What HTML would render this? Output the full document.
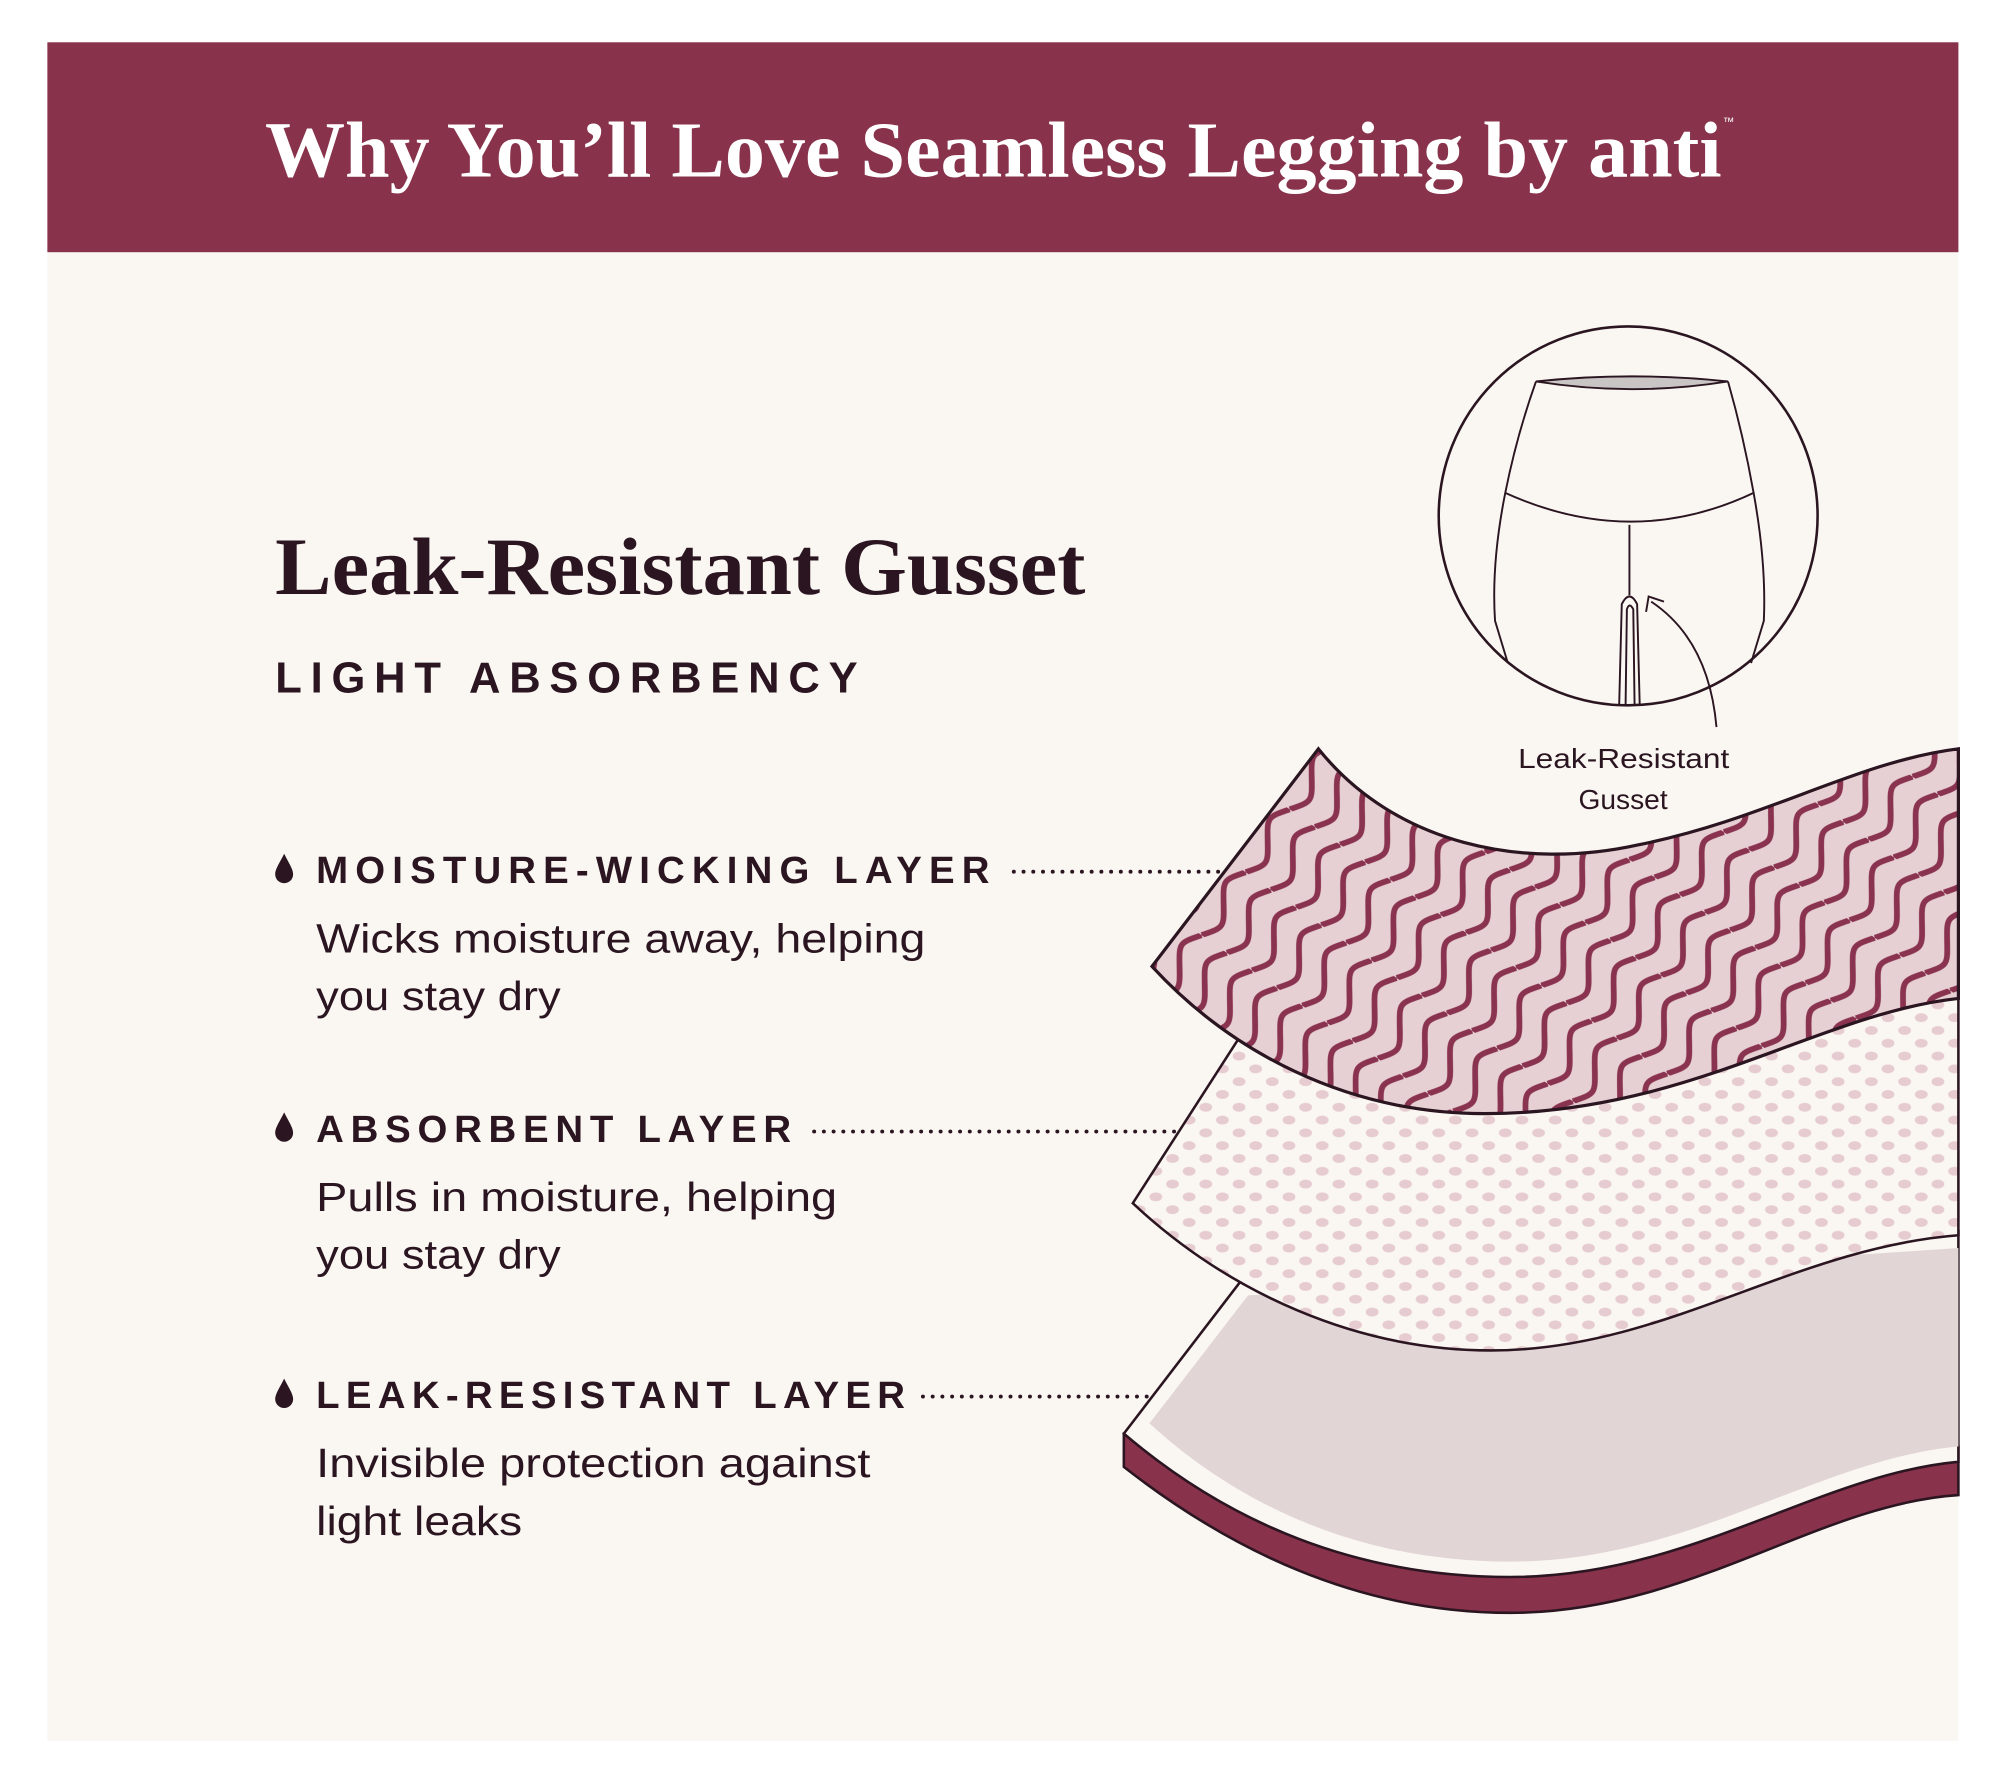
<!DOCTYPE html>
<html><head><meta charset="utf-8"><style>
html,body{margin:0;padding:0;background:#fff;}
svg{display:block;}
</style></head><body>
<svg width="2000" height="1778" viewBox="0 0 1562.5 1389" xmlns="http://www.w3.org/2000/svg">
<defs>
<pattern id="waves" width="24" height="60" patternUnits="userSpaceOnUse" patternTransform="rotate(35)">
<rect width="24" height="60" fill="#e6d0d3"/>
<path d="M12,0 C1,15 1,15 12,30 C23,45 23,45 12,60" fill="none" stroke="#8a3350" stroke-width="4.5"/>
</pattern>
<pattern id="dots" width="26" height="20" patternUnits="userSpaceOnUse">
<rect width="26" height="20" fill="#faf6f2"/>
<ellipse cx="6" cy="5" rx="5" ry="3.5" fill="#e6ccd0"/>
<ellipse cx="19" cy="15" rx="5" ry="3.5" fill="#e6ccd0"/>
</pattern>
</defs>
<rect width="1562.5" height="1389" fill="#ffffff"/>
<rect x="37" y="197" width="1493" height="1163" fill="#faf7f3"/>
<rect x="37" y="33" width="1493" height="164" fill="#88324b"/>
<text x="207" y="138" font-family="Liberation Serif, serif" font-weight="bold" font-size="62" fill="#ffffff" textLength="1138" lengthAdjust="spacingAndGlyphs">Why You’ll Love Seamless Legging by anti</text>
<text x="1346" y="98" font-family="Liberation Sans, sans-serif" font-size="9" fill="#ffffff">™</text>

<text x="215" y="464" font-family="Liberation Serif, serif" font-weight="bold" font-size="64" fill="#2a1520" textLength="633" lengthAdjust="spacingAndGlyphs">Leak-Resistant Gusset</text>
<text x="215" y="541" font-family="Liberation Sans, sans-serif" font-weight="bold" font-size="34" fill="#2a1520" textLength="455">LIGHT ABSORBENCY</text>

<g font-family="Liberation Sans, sans-serif" fill="#2a1520">
<path d="M222,667 C218,675 215,679 215,683 A7,7 0 0 0 229,683 C229,679 226,675 222,667Z"/>
<text x="247" y="690" font-weight="bold" font-size="30" textLength="526">MOISTURE-WICKING LAYER</text>
<text x="247" y="744" font-size="32" textLength="476" lengthAdjust="spacingAndGlyphs">Wicks moisture away, helping</text>
<text x="247" y="789" font-size="32" textLength="191" lengthAdjust="spacingAndGlyphs">you stay dry</text>
<path d="M222,869 C218,877 215,881 215,885 A7,7 0 0 0 229,885 C229,881 226,877 222,869Z"/>
<text x="247" y="892" font-weight="bold" font-size="30" textLength="371">ABSORBENT LAYER</text>
<text x="247" y="946" font-size="32" textLength="407" lengthAdjust="spacingAndGlyphs">Pulls in moisture, helping</text>
<text x="247" y="991" font-size="32" textLength="191" lengthAdjust="spacingAndGlyphs">you stay dry</text>
<path d="M222,1077 C218,1085 215,1089 215,1093 A7,7 0 0 0 229,1093 C229,1089 226,1085 222,1077Z"/>
<text x="247" y="1100" font-weight="bold" font-size="30" textLength="460">LEAK-RESISTANT LAYER</text>
<text x="247" y="1154" font-size="32" textLength="433" lengthAdjust="spacingAndGlyphs">Invisible protection against</text>
<text x="247" y="1199" font-size="32" textLength="161" lengthAdjust="spacingAndGlyphs">light leaks</text>
</g>
<g stroke="#2a1520" stroke-width="3" stroke-linecap="round" stroke-dasharray="0.1 7.5">
<line x1="792" y1="681" x2="955" y2="681"/>
<line x1="636" y1="884" x2="925" y2="884"/>
<line x1="721" y1="1091" x2="905" y2="1091"/>
</g>

<path d="M878,1120 L878,1146 C960,1210 1060,1260 1180,1260 C1320,1260 1420,1175 1530,1168 L1530,1130 Z" fill="#88324b" stroke="#2a1520" stroke-width="2"/>
<path d="M970,1000 L878,1120 C960,1190 1060,1232 1180,1232 C1320,1232 1420,1152 1530,1142 L1530,962 Z" fill="#faf7f3" stroke="#2a1520" stroke-width="2"/>
<path d="M975,1012 L898,1112 C970,1178 1065,1220 1180,1220 C1320,1220 1420,1140 1530,1130 L1530,975 Z" fill="#e2d5d5"/>
<path d="M975,800 L885,940 C960,1010 1060,1055 1165,1055 C1300,1055 1400,975 1530,965 L1530,780 Z" fill="url(#dots)" stroke="#2a1520" stroke-width="2"/>
<path d="M1030,585 C1090,660 1190,680 1280,660 C1380,640 1450,595 1530,585 L1530,780 C1420,792 1320,870 1160,870 C1050,870 960,820 900,755 Z" fill="url(#waves)" stroke="#2a1520" stroke-width="2.5"/>

<circle cx="1272" cy="403" r="148" fill="#faf7f3" stroke="#2a1520" stroke-width="2"/>
<g fill="none" stroke="#2a1520" stroke-width="1.5">
<path d="M1200,298 Q1275,290 1350,298 Q1275,310 1200,298Z" fill="#c9c5c5"/>
<path d="M1200,298 Q1185,340 1176,385 Q1165,440 1168,485 L1178,518"/>
<path d="M1350,298 Q1362,340 1370,385 Q1380,440 1378,485 L1368,518"/>
<path d="M1176,385 Q1275,430 1370,385"/>
<line x1="1273" y1="410" x2="1273" y2="465"/>
<path d="M1265,550 L1267,472 Q1273,460 1279,472 L1281,550"/>
<path d="M1270,550 L1271,476 Q1273,470 1276,476 L1277,550"/>
<path d="M1341,568 Q1335,500 1290,470"/>
<path d="M1286,478 L1288,466 L1300,470"/>
</g>
<text x="1186" y="600" font-family="Liberation Sans, sans-serif" font-size="22" fill="#2a1520" textLength="165" lengthAdjust="spacingAndGlyphs">Leak-Resistant</text>
<text x="1268" y="632" text-anchor="middle" font-family="Liberation Sans, sans-serif" font-size="22" fill="#2a1520">Gusset</text>
</svg>
</body></html>
